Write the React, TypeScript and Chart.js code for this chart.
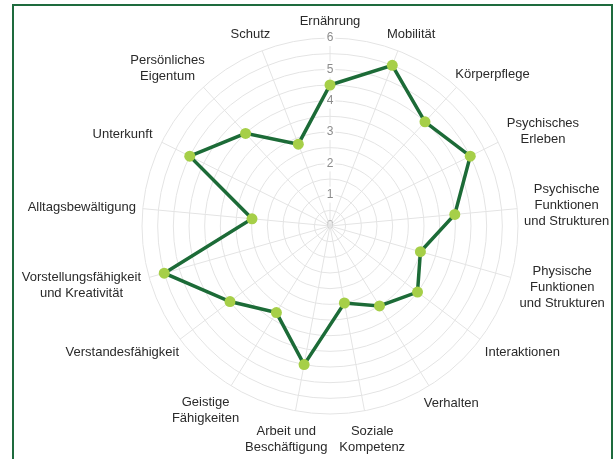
import { useEffect, useRef } from "react";
import { Chart, registerables } from "chart.js";

Chart.register(...registerables);

const categories: (string | string[])[] = [
  "Ernährung",
  "Mobilität",
  "Körperpflege",
  ["Psychisches", "Erleben"],
  ["Psychische", "Funktionen", "und Strukturen"],
  ["Physische", "Funktionen", "und Strukturen"],
  "Interaktionen",
  "Verhalten",
  ["Soziale", "Kompetenz"],
  ["Arbeit und", "Beschäftigung"],
  ["Geistige", "Fähigkeiten"],
  "Verstandesfähigkeit",
  ["Vorstellungsfähigkeit", "und Kreativität"],
  "Alltagsbewältigung",
  "Unterkunft",
  ["Persönliches", "Eigentum"],
  "Schutz",
];

const values = [4.5, 5.5, 4.5, 5, 4, 3, 3.5, 3, 2.5, 4.5, 3.25, 4, 5.5, 2.5, 5, 4, 2.8];

const scaleMin = 0;
const scaleMax = 6;
const gridStep = 0.5;
const labelStep = 1;

const LABEL_FONT = "13px 'Liberation Sans', Arial, Helvetica, sans-serif";
const LINE_H = 16;
const PAD_X = 5;
const PAD_X_DIAG = 11;
const PAD_Y_TOP = 9;
const PAD_Y_BOTTOM = 13;

const pointLabelPlugin = {
  id: "customPointLabels",
  beforeDraw(chart: any) {
    const scale = chart.scales.r;
    if (!scale) return;
    const ctx = chart.ctx;
    ctx.save();
    const t0 = scale.ticks[0];
    if (t0) {
      const p = scale.getPointPositionForValue(0, t0.value);
      ctx.font = "12px 'Liberation Sans', Arial, sans-serif";
      ctx.fillStyle = "#8c8c8c";
      ctx.textAlign = "center";
      ctx.textBaseline = "middle";
      ctx.fillText(String(t0.value), p.x, p.y);
    }
    ctx.restore();
  },
  afterDraw(chart: any) {
    const scale = chart.scales.r;
    if (!scale) return;
    const ctx = chart.ctx;
    const R = scale.drawingArea;
    ctx.save();
    ctx.font = LABEL_FONT;
    ctx.fillStyle = "#2a2a2a";
    ctx.textAlign = "center";
    ctx.textBaseline = "middle";
    (chart.data.labels as (string | string[])[]).forEach((lab, i) => {
      const lines = Array.isArray(lab) ? lab : [lab];
      const hw = Math.max(...lines.map((l) => ctx.measureText(l).width)) / 2;
      const hh = (lines.length * LINE_H) / 2;
      const a = scale.getIndexAngle(i);
      const padX = PAD_X + PAD_X_DIAG * Math.abs(Math.sin(2 * a));
      const padY = Math.cos(a) > 0 ? PAD_Y_TOP : PAD_Y_BOTTOM;
      const px = scale.getPointPosition(i, R + padX + hw).x;
      const py = scale.getPointPosition(i, R + padY + hh).y;
      lines.forEach((l, k) => {
        ctx.fillText(l, px, py - hh + LINE_H * (k + 0.5));
      });
    });
    ctx.restore();
  },
};

export default function App() {
  const ref = useRef<HTMLCanvasElement | null>(null);

  useEffect(() => {
    if (!ref.current) return;
    const chart = new Chart(ref.current, {
      type: "radar",
      data: {
        labels: categories as any,
        datasets: [
          {
            data: values,
            borderColor: "#1c6b37",
            borderWidth: 3.5,
            backgroundColor: "rgba(0,0,0,0)",
            fill: false,
            pointBackgroundColor: "#a6cf48",
            pointBorderColor: "#a6cf48",
            pointBorderWidth: 0,
            pointRadius: 5.5,
            tension: 0,
          },
        ],
      },
      options: {
        responsive: false,
        animation: false,
        layout: { padding: { left: 134, top: 30, right: 87, bottom: 36 } },
        plugins: {
          legend: { display: false },
          tooltip: { enabled: false },
        },
        scales: {
          r: {
            min: scaleMin,
            max: scaleMax,
            startAngle: 0,
            grid: { circular: true, color: "#e4e4e4", lineWidth: 1 },
            angleLines: { color: "#e4e4e4", lineWidth: 1 },
            pointLabels: { display: false },
            ticks: {
              stepSize: gridStep,
              color: "#8c8c8c",
              font: { size: 12, family: "'Liberation Sans', Arial, sans-serif" },
              backdropColor: "#ffffff",
              backdropPadding: 2,
              showLabelBackdrop: (c: any) => c.tick && c.tick.value % labelStep === 0,
              callback: (v: any) => (Number(v) % labelStep === 0 ? String(v) : ""),
            },
          },
        },
      },
      plugins: [pointLabelPlugin],
    });
    return () => chart.destroy();
  }, []);

  return (
    <div style={{ position: "absolute", left: 0, top: 0, width: 614, height: 459, overflow: "hidden", background: "#fff" }}>
      <div
        style={{
          position: "absolute",
          left: 12,
          top: 4,
          width: 601,
          height: 455,
          boxSizing: "border-box",
          borderTop: "2px solid #1e6b3d",
          borderLeft: "2px solid #1e6b3d",
          borderRight: "2px solid #1e6b3d",
        }}
      />
      <canvas ref={ref} width={614} height={459} style={{ position: "absolute", left: 0, top: 0, width: 614, height: 459 }} />
    </div>
  );
}
